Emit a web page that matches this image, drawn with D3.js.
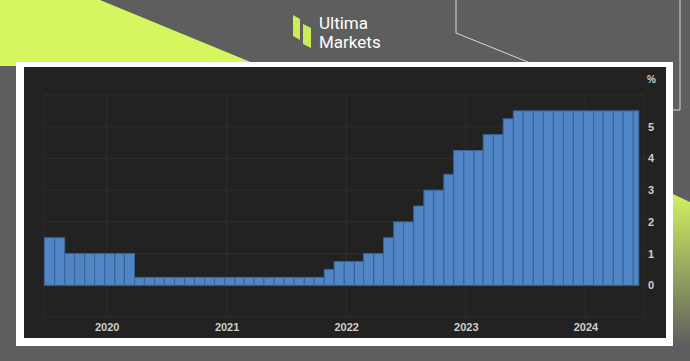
<!DOCTYPE html>
<html>
<head>
<meta charset="utf-8">
<script src="https://cdn.jsdelivr.net/npm/d3@7"></script>
<style>
  html, body { margin: 0; padding: 0; background: #5e5e5e; }
  svg { display: block; }
</style>
</head>
<body>
<svg id="chart"></svg>
<script>
// monthly policy rate, Jul 2019 .. Jun 2024 (%)
const firstMonth = '2019-07-01';
const rates = [
  1.5, 1.5,
  1.0, 1.0, 1.0, 1.0, 1.0, 1.0, 1.0,
  0.25, 0.25, 0.25, 0.25, 0.25, 0.25, 0.25, 0.25, 0.25, 0.25,
  0.25, 0.25, 0.25, 0.25, 0.25, 0.25, 0.25, 0.25, 0.25,
  0.5,
  0.75, 0.75, 0.75,
  1.0, 1.0,
  1.5,
  2.0, 2.0,
  2.5,
  3.0, 3.0,
  3.5,
  4.25, 4.25, 4.25,
  4.75, 4.75,
  5.25,
  5.5, 5.5, 5.5, 5.5, 5.5, 5.5, 5.5, 5.5, 5.5, 5.5, 5.5, 5.5, 5.5
];
const lastDataDate = '2024-06-12';
const yearTicks = [2020, 2021, 2022, 2023, 2024];
const yTicks = [0, 1, 2, 3, 4, 5];
const yGrid = [-1, 0, 1, 2, 3, 4, 5, 6];

const W = 690, H = 361;
const svg = d3.select('#chart').attr('width', W).attr('height', H);

// ---- page background ----
const defs = svg.append('defs');
const grad = defs.append('linearGradient')
  .attr('id', 'limeFade').attr('x1', 0).attr('y1', 0).attr('x2', 0).attr('y2', 1);
grad.append('stop').attr('offset', '0%').attr('stop-color', '#d4f760');
grad.append('stop').attr('offset', '100%').attr('stop-color', '#5e5e5e');

svg.append('rect').attr('width', W).attr('height', H).attr('fill', '#5e5e5e');
svg.append('path')
  .attr('d', 'M0,0 L100,0 L260,66 L0,66 Z')
  .attr('fill', '#d4f760');
svg.append('path')
  .attr('d', 'M660,188 L690,202 L690,345 L660,345 Z')
  .attr('fill', 'url(#limeFade)');
svg.append('path')
  .attr('d', 'M456,0 L456,33 L560,75 M680,0 L680,110 L670,110')
  .attr('fill', 'none').attr('stroke', '#d8d8d8').attr('stroke-width', 1);

// logo
const logo = svg.append('g');
logo.append('path').attr('d', 'M293,15 L300,19 L300,40 L293,36 Z').attr('fill', '#c8ee58');
logo.append('path').attr('d', 'M303,24 L311,28 L311,48 L303,44 Z').attr('fill', '#c8ee58');
logo.append('text').attr('x', 319).attr('y', 29).text('Ultima')
  .attr('fill', '#fff').attr('font-family', 'Roboto, Arial, sans-serif').attr('font-size', 17);
logo.append('text').attr('x', 319).attr('y', 48).text('Markets')
  .attr('fill', '#fff').attr('font-family', 'Roboto, Arial, sans-serif').attr('font-size', 17);

// white frame and dark panel
svg.append('rect').attr('x', 16).attr('y', 62).attr('width', 657).attr('height', 284).attr('fill', '#fff');
svg.append('rect').attr('x', 24).attr('y', 67).attr('width', 642).attr('height', 271).attr('fill', '#222');

// ---- scales ----
const margin = { left: 44, right: 644, top: 95, bottom: 317 };
const x = d3.scaleUtc()
  .domain([new Date(Date.UTC(2020, 0, 1)), new Date(Date.UTC(2024, 0, 1))])
  .range([106.7, 585.4]);
const y = d3.scaleLinear().domain([-1, 6]).range([margin.bottom, margin.top]);

const g = svg.append('g');

// grid
g.selectAll('line.h').data(yGrid).join('line')
  .attr('class', 'h')
  .attr('x1', margin.left).attr('x2', margin.right)
  .attr('y1', d => y(d)).attr('y2', d => y(d))
  .attr('stroke', '#2e2e2e');
g.selectAll('line.v').data(yearTicks).join('line')
  .attr('class', 'v')
  .attr('x1', d => x(new Date(Date.UTC(d, 0, 1)))).attr('x2', d => x(new Date(Date.UTC(d, 0, 1))))
  .attr('y1', margin.top).attr('y2', margin.bottom)
  .attr('stroke', '#2e2e2e');
g.append('line').attr('x1', margin.left).attr('x2', margin.left)
  .attr('y1', margin.top).attr('y2', margin.bottom).attr('stroke', '#2e2e2e');
g.append('line').attr('x1', margin.right).attr('x2', margin.right)
  .attr('y1', margin.top).attr('y2', margin.bottom).attr('stroke', '#2e2e2e');

// bars: each monthly reading is plotted from a few days before month start
const start = d3.utcParse('%Y-%m-%d')(firstMonth);
const endCap = d3.utcParse('%Y-%m-%d')(lastDataDate);
const bars = rates.map((v, i) => {
  const m0 = d3.utcMonth.offset(start, i);
  const m1 = d3.utcMonth.offset(start, i + 1);
  let e = d3.utcDay.offset(m1, -6);
  if (e > endCap) e = endCap;
  return { x0: d3.utcDay.offset(m0, -6), x1: e, v };
});

g.selectAll('rect.bar').data(bars).join('rect')
  .attr('class', 'bar')
  .attr('x', d => x(d.x0))
  .attr('width', d => x(d.x1) - x(d.x0))
  .attr('y', d => y(d.v))
  .attr('height', d => y(0) - y(d.v))
  .attr('fill', '#5086c6')
  .attr('stroke', '#3a6396')
  .attr('stroke-width', 1);

// axes text
const font = 'Arial, "Liberation Sans", sans-serif';
const xAxis = d3.axisBottom(x)
  .tickValues(yearTicks.map(d => new Date(Date.UTC(d, 0, 1))))
  .tickFormat(d3.utcFormat('%Y'))
  .tickSize(0).tickPadding(6);
const xa = g.append('g').attr('transform', `translate(0,${margin.bottom})`).call(xAxis);
xa.select('.domain').remove();
xa.selectAll('text').attr('fill', '#cfcfcf').attr('font-family', font)
  .attr('font-size', 11).attr('font-weight', 'bold');

const yAxis = d3.axisRight(y).tickValues(yTicks).tickFormat(d3.format('d'))
  .tickSize(0).tickPadding(4);
const ya = g.append('g').attr('transform', `translate(${margin.right},0)`).call(yAxis);
ya.select('.domain').remove();
ya.selectAll('text').attr('fill', '#cfcfcf').attr('font-family', font)
  .attr('font-size', 11).attr('font-weight', 'bold');

g.append('text').attr('x', 647).attr('y', 83).text('%')
  .attr('fill', '#cfcfcf').attr('font-family', font)
  .attr('font-size', 10).attr('font-weight', 'bold');
</script>
</body>
</html>
